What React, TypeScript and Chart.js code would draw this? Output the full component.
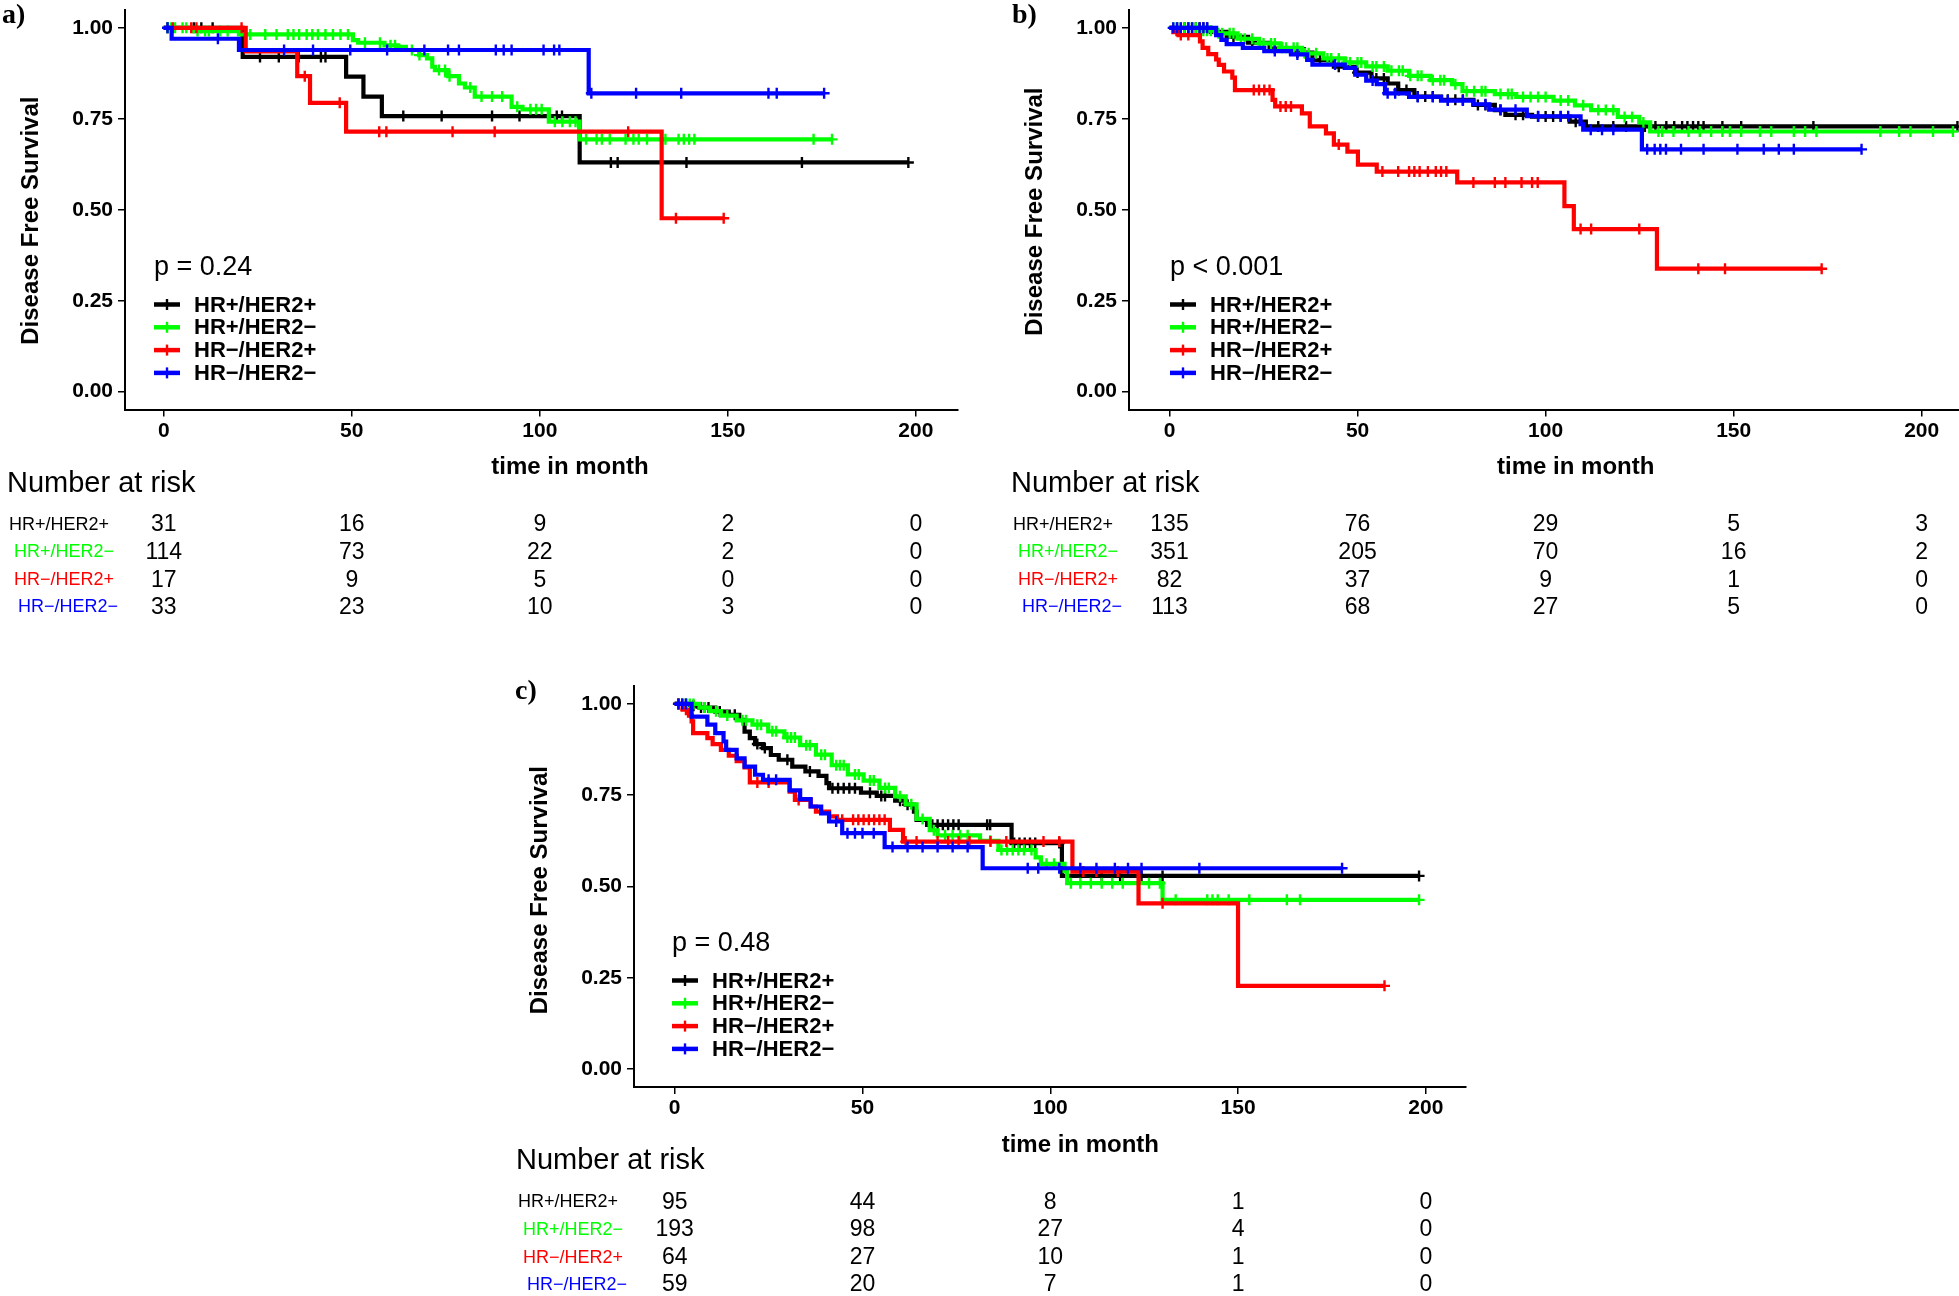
import React, { useEffect, useRef } from "react";
import { Chart, registerables } from "chart.js";

Chart.register(...registerables);

const FONT = "'Liberation Sans', Arial, Helvetica, sans-serif";
const SERIF = "'Liberation Serif', 'Times New Roman', serif";

const GROUPS = ["HR+/HER2+", "HR+/HER2\u2212", "HR\u2212/HER2+", "HR\u2212/HER2\u2212"];
const COLORS = ["#000000", "#00FF00", "#FF0000", "#0000FF"];
const X_TICKS = [0, 50, 100, 150, 200];
const Y_TICKS = [0, 0.25, 0.5, 0.75, 1];
const RISK_TIMES = [0, 50, 100, 150, 200];

// ---------- Panel a ----------
const A_BLACK_T = [21, 48.5, 53.1, 58, 110.6];
const A_BLACK_S = [0.92, 0.866, 0.811, 0.7575, 0.63];
const A_BLACK_CENS = [1, 8, 10, 13, 25.6, 30.6, 35.9, 41.8, 43, 63.7, 73.9, 87.3, 94.6, 102.4, 104.5, 105.9, 118.9, 120.7, 139, 169.7, 198];
const A_BLACK_END = 198;

const A_GREEN_T = [8, 20, 50.3, 51.7, 58.7, 62.3, 64.4, 67.9, 70, 71.4, 72.1, 75.6, 78.5, 80.1, 82.7, 92.5, 95.4, 102.4, 110.6];
const A_GREEN_S = [0.991, 0.982, 0.966, 0.959, 0.952, 0.948, 0.939, 0.925, 0.916, 0.893, 0.884, 0.867, 0.847, 0.836, 0.811, 0.783, 0.776, 0.742, 0.6935];
const A_GREEN_CENS = [1, 2, 3, 5, 6, 9, 11, 12, 15, 17, 23, 27, 30, 33, 34.5, 36, 38, 39.5, 41, 43, 45, 47, 49, 53.5, 57.5, 60.3, 61.5, 66, 68, 73.2, 74.8, 76, 81.5, 84.5, 87.3, 90, 94, 97.5, 99, 100.5, 104, 106, 108, 109.5, 112.3, 115.1, 116.5, 118.6, 122.8, 124.9, 126.3, 128.5, 133.4, 136.9, 138.3, 139.7, 141.1, 172.8, 177.7];
const A_GREEN_END = 177.7;

const A_RED_T = [21.8, 35.5, 38.9, 48.5, 132.4];
const A_RED_S = [0.935, 0.867, 0.794, 0.7146, 0.4767];
const A_RED_CENS = [2.4, 7.3, 8.7, 20.7, 37.5, 46.8, 57.3, 59.2, 76.8, 88, 123.5, 136.2, 148.9];
const A_RED_END = 148.9;

const A_BLUE_T = [2.1, 20, 113];
const A_BLUE_S = [0.97, 0.939, 0.82];
const A_BLUE_CENS = [1, 14.4, 32, 39.7, 49.6, 59.4, 69.3, 75.6, 78.5, 88.3, 90.4, 92.5, 101, 103.8, 105.2, 113.7, 125.6, 137.6, 160.8, 163, 175.6];
const A_BLUE_END = 175.6;

const A_RISK = [
  [31, 16, 9, 2, 0],
  [114, 73, 22, 2, 0],
  [17, 9, 5, 0, 0],
  [33, 23, 10, 3, 0],
];

// ---------- Panel b ----------
const B_BLACK_T = [11, 15.2, 20.9, 26.6, 32.3, 38, 43.7, 49.4, 53.7, 58, 60.8, 65.1, 72.2, 80.8, 86.5, 89.3, 96.4, 106.4, 110.7];
const B_BLACK_S = [0.989, 0.975, 0.959, 0.943, 0.932, 0.911, 0.893, 0.877, 0.861, 0.847, 0.829, 0.811, 0.802, 0.788, 0.774, 0.761, 0.756, 0.742, 0.729];
const B_BLACK_CENS = [2, 4, 5, 6, 7, 8, 9, 10, 17, 22, 28, 34, 36, 40, 45, 50, 55, 57, 61, 63, 66, 68, 70, 74, 76, 78, 82, 84, 88, 92, 94, 98, 100, 102, 104, 108, 114, 118, 121.4, 126.4, 129.2, 132.1, 134.2, 136.3, 137.7, 139.2, 140.6, 142, 147, 152, 171.2, 209.5];
const B_BLACK_END = 209.5;

const B_GREEN_T = [8, 12.4, 18.1, 23.8, 29.5, 35.2, 40.9, 46.6, 52.3, 58, 63.7, 69.4, 75.1, 77.9, 86.5, 92.2, 102.1, 107.8, 112.1, 119.2, 124.9, 127.8];
const B_GREEN_S = [0.992, 0.985, 0.97, 0.957, 0.945, 0.93, 0.916, 0.905, 0.894, 0.882, 0.868, 0.856, 0.845, 0.826, 0.818, 0.81, 0.8, 0.787, 0.774, 0.755, 0.74, 0.715];
const B_GREEN_CENS = [1, 2, 3, 4, 5, 6, 7, 9, 10, 11, 13, 14, 16, 17, 19, 20, 22, 24, 25, 27, 28, 30, 31, 33, 34, 36, 37, 39, 42, 43, 45, 47, 48, 50, 51, 54, 55, 57, 59, 61, 62, 64, 66, 67, 70, 72, 73, 76, 79, 81, 83, 84, 88, 90, 91, 94, 96, 98, 100, 104, 106, 110, 114, 116, 118, 121, 123, 126, 130, 131, 134, 138, 141, 144, 147, 149, 152, 157, 160, 166, 169, 172, 189, 194, 197, 203, 208.3];
const B_GREEN_END = 208.3;

const B_RED_T = [1, 2.4, 8.1, 8.8, 10.3, 12.4, 13.1, 14.5, 16.7, 17.4, 27.4, 28.1, 35.2, 37.3, 41.6, 43.7, 47.3, 50.1, 55.1, 76.5, 105, 107.5, 129.6];
const B_RED_S = [0.988, 0.98, 0.963, 0.945, 0.928, 0.913, 0.898, 0.88, 0.863, 0.829, 0.802, 0.784, 0.765, 0.729, 0.71, 0.679, 0.66, 0.624, 0.605, 0.575, 0.51, 0.447, 0.338];
const B_RED_CENS = [3, 5, 22.4, 23.8, 25.2, 26.6, 29.5, 30.9, 32.3, 45, 56.6, 60.8, 63.7, 65.1, 66.5, 68.7, 70.8, 72.2, 73.6, 80.8, 86.5, 89.3, 93.6, 96.4, 97.9, 109.3, 112.1, 124.9, 140.6, 147.7, 173.4];
const B_RED_END = 173.4;

const B_BLUE_T = [12.4, 13.8, 15.2, 19.5, 25.2, 32.3, 36.6, 38, 46.6, 49.4, 52.3, 55.1, 57.3, 63.7, 72.2, 80.8, 85, 95, 109.3, 110, 125.6];
const B_BLUE_S = [0.98, 0.967, 0.955, 0.945, 0.936, 0.927, 0.912, 0.899, 0.89, 0.871, 0.855, 0.845, 0.82, 0.81, 0.8, 0.79, 0.775, 0.757, 0.735, 0.72, 0.666];
const B_BLUE_CENS = [1, 2, 3, 5, 6, 8, 9, 10, 28, 34, 44, 54, 58, 60, 66, 70, 74, 78, 84, 88, 92, 98, 104, 106, 112, 115, 118, 127, 129, 130.5, 132, 136, 142, 151, 158, 162, 166, 184];
const B_BLUE_END = 184;

const B_RISK = [
  [135, 76, 29, 5, 3],
  [351, 205, 70, 16, 2],
  [82, 37, 9, 1, 0],
  [113, 68, 27, 5, 0],
];

// ---------- Panel c ----------
const C_BLACK_T = [4.5, 6.6, 10.8, 14.4, 17.2, 18.6, 20, 21.4, 23.5, 25.6, 27.7, 31.3, 34.8, 38.3, 40.4, 41.1, 49.6, 53.8, 58.7, 61.5, 63.7, 64.4, 67.2, 89.7, 103.1];
const C_BLACK_S = [0.995, 0.99, 0.979, 0.97, 0.956, 0.924, 0.906, 0.89, 0.879, 0.86, 0.847, 0.828, 0.815, 0.803, 0.783, 0.769, 0.757, 0.748, 0.735, 0.724, 0.705, 0.6825, 0.669, 0.619, 0.529];
const C_BLACK_CENS = [1, 2, 3, 5, 7, 8, 9, 12, 16, 22, 24, 30, 36, 42, 43.5, 45, 46.5, 48, 52, 55, 56, 60, 62, 68.6, 70, 71.4, 72.8, 74.2, 75.6, 83.2, 84, 90.4, 91.8, 93.2, 94.6, 96, 102.4, 113.7, 118.6, 124.3, 129.9, 198.2];
const C_BLACK_END = 198.2;

const C_GREEN_T = [6.6, 9.4, 12.3, 16.5, 20.7, 24.9, 29.2, 33.4, 37.6, 41.8, 46.1, 50.3, 54.5, 58.7, 61.5, 64.4, 67.9, 70, 81.3, 86.2, 96.1, 97.5, 103.8, 104.5, 129.9];
const C_GREEN_S = [0.99, 0.98, 0.968, 0.955, 0.943, 0.925, 0.908, 0.887, 0.861, 0.832, 0.807, 0.79, 0.77, 0.747, 0.725, 0.685, 0.654, 0.64, 0.625, 0.6, 0.58, 0.562, 0.542, 0.509, 0.4635];
const C_GREEN_CENS = [1, 2, 3, 4, 5, 8, 11, 14, 18, 19, 22, 23, 26, 27, 30, 31, 32, 35, 36, 39, 40, 43, 44, 45, 48, 49, 52, 53, 56, 57, 60, 63, 66, 69, 72, 74, 76, 78, 84, 87, 88.5, 90, 91.5, 93, 95, 99, 101, 105.5, 108, 110.8, 113.7, 116.5, 119.3, 123.5, 126.3, 129.2, 133.4, 141.8, 143.2, 144.6, 147.5, 153, 163, 166.5, 198.2];
const C_GREEN_END = 198.2;

const C_RED_T = [2.1, 3.8, 4.5, 4.9, 8.7, 10.1, 12.3, 14.4, 16.5, 18.6, 20, 30.6, 32, 36.2, 37.6, 41.1, 43.2, 57.3, 60.8, 105.9, 123.5, 150];
const C_RED_S = [0.984, 0.968, 0.952, 0.92, 0.906, 0.89, 0.874, 0.858, 0.843, 0.826, 0.785, 0.76, 0.737, 0.719, 0.705, 0.692, 0.6825, 0.655, 0.623, 0.541, 0.454, 0.228];
const C_RED_CENS = [1, 3, 22, 25, 33, 44.6, 47.5, 48.9, 50.3, 51.7, 53.1, 54.5, 55.9, 61.5, 64.4, 70, 72.8, 75.6, 78.5, 84.1, 88.3, 98.2, 102.4, 108.8, 112.3, 118, 129.9, 189];
const C_RED_END = 189;

const C_BLUE_T = [4.5, 8.7, 10.8, 13, 13.7, 16.5, 18.6, 21.4, 23.5, 30.6, 33.4, 36.2, 39, 41.1, 44.6, 55.9, 82];
const C_BLUE_S = [0.965, 0.943, 0.92, 0.897, 0.874, 0.851, 0.828, 0.806, 0.792, 0.763, 0.739, 0.719, 0.7, 0.678, 0.646, 0.608, 0.55];
const C_BLUE_CENS = [1, 2, 3, 25, 27, 43, 46, 48, 50, 53, 58, 62, 66, 70, 74, 78, 94, 96.8, 102.4, 108, 112.3, 117.2, 120.7, 124.3, 139.7, 177.7];
const C_BLUE_END = 177.7;

const C_RISK = [
  [95, 44, 8, 1, 0],
  [193, 98, 27, 4, 0],
  [64, 27, 10, 1, 0],
  [59, 20, 7, 1, 0],
];

type Curve = { t: number[]; s: number[]; cens: number[]; end: number };
type Panel = {
  key: string;
  label: string;
  pText: string;
  left: number;
  top: number;
  width: number;
  height: number;
  area: { left: number; top: number; right: number; bottom: number };
  xMin: number;
  xMax: number;
  curves: Curve[];
  risk: number[][];
  yTitleAt: number;
  legDx: number;
  labelDx: number;
};

const PANELS: Panel[] = [
  {
    key: "a", label: "a)", pText: "p = 0.24",
    left: 0, top: 0, width: 1000, height: 640,
    area: { left: 125, top: 10, right: 958, bottom: 409.5 },
    xMin: -10.3, xMax: 211.2,
    curves: [
      { t: A_BLACK_T, s: A_BLACK_S, cens: A_BLACK_CENS, end: A_BLACK_END },
      { t: A_GREEN_T, s: A_GREEN_S, cens: A_GREEN_CENS, end: A_GREEN_END },
      { t: A_RED_T, s: A_RED_S, cens: A_RED_CENS, end: A_RED_END },
      { t: A_BLUE_T, s: A_BLUE_S, cens: A_BLUE_CENS, end: A_BLUE_END },
    ],
    risk: A_RISK, yTitleAt: 0.47, legDx: 29, labelDx: -123,
  },
  {
    key: "b", label: "b)", pText: "p < 0.001",
    left: 1000, top: 0, width: 1040, height: 640,
    area: { left: 129, top: 10, right: 1019.5, bottom: 409.5 },
    xMin: -10.77, xMax: 226,
    curves: [
      { t: B_BLACK_T, s: B_BLACK_S, cens: B_BLACK_CENS, end: B_BLACK_END },
      { t: B_GREEN_T, s: B_GREEN_S, cens: B_GREEN_CENS, end: B_GREEN_END },
      { t: B_RED_T, s: B_RED_S, cens: B_RED_CENS, end: B_RED_END },
      { t: B_BLUE_T, s: B_BLUE_S, cens: B_BLUE_CENS, end: B_BLUE_END },
    ],
    risk: B_RISK, yTitleAt: 0.495, legDx: 41, labelDx: -117,
  },
  {
    key: "c", label: "c)", pText: "p = 0.48",
    left: 500, top: 660, width: 1000, height: 636,
    area: { left: 134, top: 26, right: 966, bottom: 427 },
    xMin: -10.84, xMax: 210.7,
    curves: [
      { t: C_BLACK_T, s: C_BLACK_S, cens: C_BLACK_CENS, end: C_BLACK_END },
      { t: C_GREEN_T, s: C_GREEN_S, cens: C_GREEN_CENS, end: C_GREEN_END },
      { t: C_RED_T, s: C_RED_S, cens: C_RED_CENS, end: C_RED_END },
      { t: C_BLUE_T, s: C_BLUE_S, cens: C_BLUE_CENS, end: C_BLUE_END },
    ],
    risk: C_RISK, yTitleAt: 0.49, legDx: 38, labelDx: -119,
  },
];

const RISK_DY = [74, 115.5, 143, 170.7, 198];
const RISK_LABEL_DX = [-66, -61, -61, -57];
const X_SCALE_H = 30;

function survAt(c: Curve, x: number) {
  let v = 1;
  for (let i = 0; i < c.t.length; i++) if (c.t[i] <= x) v = c.s[i];
  return v;
}

function makeChart(canvas: HTMLCanvasElement, p: Panel) {
  const datasets: any[] = [];
  p.curves.forEach((c, gi) => {
    const pts = [{ x: 0, y: 1 }, ...c.t.map((t, i) => ({ x: t, y: c.s[i] })), { x: c.end, y: c.s[c.s.length - 1] }];
    datasets.push({
      type: "line",
      data: pts,
      borderColor: COLORS[gi],
      backgroundColor: COLORS[gi],
      borderWidth: 4.2,
      stepped: "before",
      pointRadius: 0,
      fill: false,
      order: 20 - gi * 2,
    });
    datasets.push({
      type: "scatter",
      data: c.cens.map((x) => ({ x, y: survAt(c, x) })),
      showLine: false,
      pointStyle: "cross",
      pointRadius: 5.5,
      pointBorderWidth: 2.4,
      pointBorderColor: COLORS[gi],
      pointBackgroundColor: COLORS[gi],
      borderColor: COLORS[gi],
      order: 19 - gi * 2,
    });
  });

  const a = p.area;
  const extras = {
    id: "kmExtras_" + p.key,
    afterDraw(chart: any) {
      const ctx = chart.ctx as CanvasRenderingContext2D;
      const ca = chart.chartArea;
      const xs = chart.scales.x;
      const ys = chart.scales.y;
      ctx.save();
      ctx.fillStyle = "#000";
      ctx.textBaseline = "middle";

      // panel label
      ctx.font = `bold 28px ${SERIF}`;
      ctx.textAlign = "left";
      ctx.fillText(p.label, ca.left + p.labelDx, ca.top + 6);

      // y title
      ctx.save();
      ctx.translate(ca.left - 94, ys.getPixelForValue(p.yTitleAt));
      ctx.rotate(-Math.PI / 2);
      ctx.font = `bold 24px ${FONT}`;
      ctx.textAlign = "center";
      ctx.fillText("Disease Free Survival", 0, 0);
      ctx.restore();

      // x title
      ctx.font = `bold 24px ${FONT}`;
      ctx.textAlign = "center";
      ctx.fillText("time in month", xs.getPixelForValue(108), ca.bottom + 58);

      // p value
      ctx.font = `27px ${FONT}`;
      ctx.textAlign = "left";
      ctx.fillText(p.pText, ca.left + p.legDx, ca.top + 258);

      // legend
      GROUPS.forEach((g, i) => {
        const y = ca.top + 294.5 + 22.8 * i;
        const x0 = ca.left + p.legDx;
        ctx.strokeStyle = COLORS[i];
        ctx.lineWidth = 4.5;
        ctx.beginPath();
        ctx.moveTo(x0, y);
        ctx.lineTo(x0 + 26, y);
        ctx.stroke();
        ctx.lineWidth = 2.4;
        ctx.beginPath();
        ctx.moveTo(x0 + 13, y - 5.5);
        ctx.lineTo(x0 + 13, y + 5.5);
        ctx.stroke();
        ctx.fillStyle = "#000";
        ctx.font = `bold 22px ${FONT}`;
        ctx.textAlign = "left";
        ctx.fillText(g, x0 + 40, y + 1);
      });

      // risk table
      ctx.font = `29px ${FONT}`;
      ctx.textAlign = "left";
      ctx.fillStyle = "#000";
      ctx.fillText("Number at risk", ca.left - 118, ca.bottom + RISK_DY[0]);
      p.risk.forEach((row, i) => {
        const y = ca.bottom + RISK_DY[i + 1];
        ctx.fillStyle = COLORS[i];
        ctx.font = `18px ${FONT}`;
        ctx.textAlign = "center";
        ctx.fillText(GROUPS[i], ca.left + RISK_LABEL_DX[i], y);
        ctx.fillStyle = "#000";
        ctx.font = `23px ${FONT}`;
        row.forEach((n, j) => ctx.fillText(String(n), xs.getPixelForValue(RISK_TIMES[j]), y));
      });
      ctx.restore();
    },
  };

  const zeroPad = (s: any) => {
    s.paddingLeft = 0;
    s.paddingRight = 0;
    s.paddingTop = 0;
    s.paddingBottom = 0;
  };

  return new Chart(canvas, {
    type: "line",
    data: { datasets },
    plugins: [extras],
    options: {
      responsive: false,
      maintainAspectRatio: false,
      animation: false,
      devicePixelRatio: 1,
      events: [],
      layout: {
        padding: {
          left: 0,
          top: a.top,
          right: p.width - a.right,
          bottom: p.height - a.bottom - X_SCALE_H,
        },
      },
      plugins: { legend: { display: false }, tooltip: { enabled: false }, title: { display: false } },
      scales: {
        x: {
          type: "linear",
          position: "bottom",
          min: p.xMin,
          max: p.xMax,
          afterBuildTicks: (s: any) => {
            s.ticks = X_TICKS.map((v) => ({ value: v }));
          },
          afterFit: (s: any) => {
            s.height = X_SCALE_H;
            zeroPad(s);
          },
          grid: { display: true, drawOnChartArea: false, drawTicks: true, tickLength: 7, color: "#000", lineWidth: 1.5 },
          border: { display: true, color: "#000", width: 2 },
          ticks: {
            color: "#000",
            font: { family: FONT, size: 21, weight: "bold" },
            padding: 2,
            maxRotation: 0,
            autoSkip: false,
            includeBounds: false,
            callback: (v: any) => String(v),
          },
        },
        y: {
          type: "linear",
          position: "left",
          min: -0.049,
          max: 1.049,
          afterBuildTicks: (s: any) => {
            s.ticks = Y_TICKS.map((v) => ({ value: v }));
          },
          afterFit: (s: any) => {
            s.width = a.left;
            zeroPad(s);
          },
          grid: { display: true, drawOnChartArea: false, drawTicks: true, tickLength: 7, color: "#000", lineWidth: 1.5 },
          border: { display: true, color: "#000", width: 2 },
          ticks: {
            color: "#000",
            font: { family: FONT, size: 21, weight: "bold" },
            padding: 5,
            autoSkip: false,
            includeBounds: false,
            callback: (v: any) => Number(v).toFixed(2),
          },
        },
      },
    } as any,
  });
}

function KMPanel({ p }: { p: Panel }) {
  const ref = useRef<HTMLCanvasElement>(null);
  useEffect(() => {
    const chart = makeChart(ref.current as HTMLCanvasElement, p);
    return () => chart.destroy();
  }, [p]);
  return (
    <canvas
      ref={ref}
      width={p.width}
      height={p.height}
      style={{ position: "absolute", left: p.left, top: p.top, width: p.width, height: p.height, display: "block" }}
    />
  );
}

export default function App() {
  return (
    <div
      style={{
        position: "fixed",
        left: 0,
        top: 0,
        width: 1959,
        height: 1296,
        overflow: "hidden",
        background: "#fff",
      }}
    >
      {PANELS.map((p) => (
        <KMPanel key={p.key} p={p} />
      ))}
    </div>
  );
}
